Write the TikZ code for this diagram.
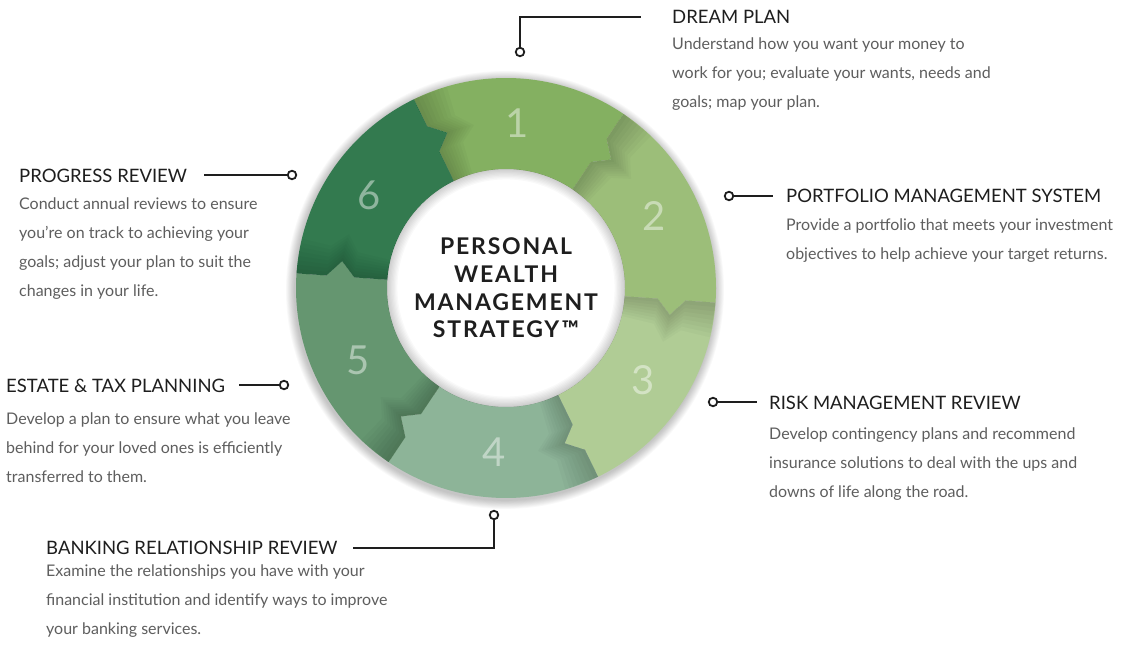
\documentclass[tikz,border=0pt]{standalone}
\usepackage{fontspec}
\setmainfont{Lato}
\newfontfamily\corefont[LetterSpace=8]{Lato}
\usetikzlibrary{calc}

\definecolor{segA}{HTML}{84B061}
\definecolor{segB}{HTML}{9CBE79}
\definecolor{segC}{HTML}{B0CC95}
\definecolor{segD}{HTML}{8DB498}
\definecolor{segE}{HTML}{659670}
\definecolor{segF}{HTML}{337A4F}
\definecolor{bodygray}{HTML}{5E5E5E}
\definecolor{inkblack}{HTML}{1E1E1E}

\tikzset{
  knob/.style={circle, draw=inkblack, line width=1.8pt, fill=white, inner sep=0pt, minimum size=8.5pt},
  lead/.style={draw=inkblack, line width=1.8pt},
  heading/.style={font=\fontsize{18.5}{20}\selectfont, text=inkblack, inner sep=0pt, anchor=base west},
  blurb/.style={font=\fontsize{16}{29}\selectfont, text=bodygray, inner sep=0pt, anchor=north west, align=left},
  digit/.style={font=\fontsize{40}{40}\selectfont, text=white, text opacity=0.45}
}

\begin{document}
\begin{tikzpicture}[x=1pt, y=1pt]
  \fill[white] (0,0) rectangle (1133,-647);
  \useasboundingbox (0,0) rectangle (1133,-647);
  \coordinate (C) at (506,-288);

  % soft shadow round the ring
  \foreach \k in {1,...,10}
    \fill[black, opacity=0.025] ($(C)+(-1,-2)$) circle (210+\k*0.9);
  \fill[white] (C) circle (119);

  % six segments, clockwise from the top
  \begin{scope}[shift={(C)}]
    \foreach \i/\col in {1/segA, 2/segB, 3/segC, 4/segD, 5/segE, 6/segF} {
      \pgfmathsetmacro\s{116-60*(\i-1)}
      \pgfmathsetmacro\e{\s-60}
      \pgfmathsetmacro\m{\s-30}
      \fill[\col] (\s:210) arc[start angle=\s, end angle=\e, radius=210]
        -- (\e:180) -- (\e-5.3:166) -- (\e:152) -- (\e:119)
        arc[start angle=\e, end angle=\s, radius=119]
        -- (\s:152) -- (\s-5.3:166) -- (\s:180) -- cycle;
    }
    % shadow cast by each arrow edge onto the next segment
    \foreach \i in {1,...,6} {
      \pgfmathsetmacro\e{56-60*(\i-1)}
      \foreach \a in {1.2,2.4,...,9.6}
        \fill[black, opacity=0.022] (\e:210) -- (\e:180) -- (\e-5.3:166) -- (\e:152) -- (\e:119)
          -- (\e-\a:119) -- (\e-\a:152) -- (\e-\a-5.3:166) -- (\e-\a:180) -- (\e-\a:210) -- cycle;
    }
    \foreach \i in {1,...,6} {
      \pgfmathsetmacro\m{86-60*(\i-1)}
      \node[digit] (n\i) at (\m:165) {\i};
    }
    % shade inside the hole
    \foreach \k in {1,...,8}
      \fill[black, opacity=0.025, even odd rule] (0,0) circle (119) (0,0) circle (119-\k*1.3);
  \end{scope}

  \node[align=center, text=inkblack, font={\corefont\fontsize{23}{27.7}\selectfont\bfseries}] (core) at (C)
    {PERSONAL\\WEALTH\\MANAGEMENT\\STRATEGY™};

  % 1
  \node[knob] (d1) at (520,-52) {};
  \node[heading] (t1) at (672,-23.5) {DREAM PLAN};
  \node[blurb] (b1) at (672,-38) {Understand how you want your money to\\work for you; evaluate your wants, needs and\\goals; map your plan.};
  \draw[lead, shorten >=31pt] (d1) |- (t1.west);

  % 2
  \node[knob] (d2) at (729,-196) {};
  \node[heading] (t2) at (786,-203) {PORTFOLIO MANAGEMENT SYSTEM};
  \node[blurb] (b2) at (786,-219) {Provide a portfolio that meets your investment\\objectives to help achieve your target returns.};
  \draw[lead, shorten >=13pt] (d2) -- (d2 -| t2.west);

  % 3
  \node[knob] (d3) at (713,-402) {};
  \node[heading] (t3) at (769,-409.5) {RISK MANAGEMENT REVIEW};
  \node[blurb] (b3) at (769,-428) {Develop contingency plans and recommend\\insurance solutions to deal with the ups and\\downs of life along the road.};
  \draw[lead, shorten >=12pt] (d3) -- (d3 -| t3.west);

  % 4
  \node[knob] (d4) at (494,-515) {};
  \node[heading] (t4) at (46,-554.5) {BANKING RELATIONSHIP REVIEW};
  \node[blurb] (b4) at (46,-565) {Examine the relationships you have with your\\financial institution and identify ways to improve\\your banking services.};
  \draw[lead, shorten >=15pt] (d4) |- (t4.east);

  % 5
  \node[knob] (d5) at (284,-385) {};
  \node[heading] (t5) at (6,-392) {ESTATE \& TAX PLANNING};
  \node[blurb] (b5) at (6,-413) {Develop a plan to ensure what you leave\\behind for your loved ones is efficiently\\transferred to them.};
  \draw[lead, shorten >=14pt] (d5) -- (d5 -| t5.east);

  % 6
  \node[knob] (d6) at (292,-175) {};
  \node[heading] (t6) at (19,-182.5) {PROGRESS REVIEW};
  \node[blurb] (b6) at (19,-198) {Conduct annual reviews to ensure\\you're on track to achieving your\\goals; adjust your plan to suit the\\changes in your life.};
  \draw[lead, shorten >=17pt] (d6) -- (d6 -| t6.east);
\end{tikzpicture}
\end{document}
